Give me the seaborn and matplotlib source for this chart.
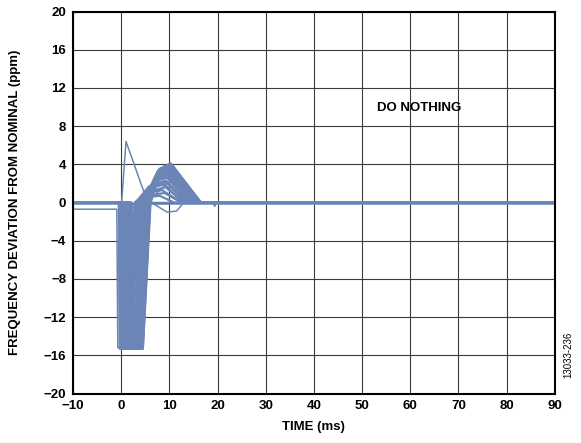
import pandas as pd
import seaborn as sns
import matplotlib.pyplot as plt

# x/y ticks
x_ticks = [-10, 0, 10, 20, 30, 40, 50, 60, 70, 80, 90]
y_ticks = [-20, -16, -12, -8, -4, 0, 4, 8, 12, 16, 20]

# settling runs (ms / ppm)
drop_ms   = [-0.5, -0.4, -0.3, -0.2, 0.0, 0.2, 0.4, 0.6, 0.8, 1.0, 0.1, 1.4, 0.3, 1.8, -0.1, 0.7, 0.5, 2.2,
             0.9, 1.2, 0.3, 1.6, -0.2, 0.6, 1.1, 0.0, 1.5, 0.4, 2.0, 0.8]
floor_ms  = [-0.3, -0.2, -0.1, 0.0, 0.2, 0.4, 0.6, 0.8, 1.0, 1.2, 0.4, 1.6, 0.7, 2.0, 0.1, 0.9, 0.8, 2.4,
             1.1, 1.4, 0.5, 1.8, 0.0, 0.8, 1.3, 0.2, 1.7, 0.6, 2.2, 1.0]
depth_ppm = [-15.3, -15.3, -15.2, -15.3, -15.3, -15.3, -15.3, -15.3, -15.3, -15.3,
             -14.2, -15.1, -12.0, -15.3, -15.2, -15.0, -9.0, -15.3,
             -15.3, -15.2, -15.3, -15.3, -15.1, -15.3, -15.3, -15.2, -15.3, -15.3, -15.2, -15.3]
rise_ms   = [1.0, 1.6, 2.0, 2.4, 2.8, 3.2, 3.6, 4.0, 4.3, 4.5, 1.8, 4.4, 2.2, 4.2, 1.3, 3.0, 1.6, 3.8,
             4.1, 3.9, 3.4, 4.5, 2.6, 3.7, 4.2, 3.1, 4.4, 3.5, 4.3, 3.9]
cross_ms  = [2.8, 3.3, 3.7, 4.1, 4.5, 4.9, 5.3, 5.6, 5.8, 6.0, 3.5, 5.9, 4.0, 5.7, 3.0, 4.7, 3.2, 5.5,
             5.7, 5.5, 5.1, 6.1, 4.3, 5.4, 5.8, 4.8, 6.0, 5.2, 5.9, 5.6]
knee_ms   = [5.5, 6.0, 6.4, 6.7, 7.0, 7.3, 7.6, 7.9, 8.1, 8.3, 6.2, 8.0, 6.5, 7.8, 5.8, 7.2, 6.0, 7.7,
             7.9, 7.6, 7.4, 8.2, 6.9, 7.5, 8.0, 7.1, 8.2, 7.4, 8.1, 7.8]
knee_ppm  = [1.0, 1.5, 1.9, 2.2, 2.6, 2.9, 3.2, 3.4, 3.5, 3.4, 1.2, 3.3, 0.8, 3.1, 1.7, 2.4, 0.6, 2.7,
             3.5, 3.3, 3.0, 3.4, 2.4, 3.1, 3.5, 2.8, 3.4, 3.1, 3.3, 3.4]
peak_ms   = [8.5, 9.0, 9.3, 9.5, 9.7, 9.9, 10.0, 10.1, 10.2, 10.3, 9.2, 10.4, 9.0, 10.0, 9.4, 10.6, 8.0, 10.8,
             10.0, 10.1, 9.8, 10.5, 9.6, 10.2, 10.3, 9.8, 10.6, 10.0, 10.4, 10.1]
peak_ppm  = [1.3, 1.9, 2.3, 2.6, 3.0, 3.3, 3.6, 3.9, 4.1, 4.0, 1.6, 3.8, 1.0, 3.5, 2.1, 2.8, 0.7, 3.1,
             4.0, 3.8, 3.4, 3.9, 2.8, 3.7, 4.1, 3.2, 3.9, 3.5, 3.8, 4.0]
settle_ms = [12.5, 13.0, 13.5, 14.0, 14.5, 15.0, 15.5, 16.0, 16.4, 16.5, 13.0, 16.2, 12.5, 15.8, 13.8, 15.2, 11.0, 15.6,
             16.3, 16.1, 15.4, 16.6, 14.6, 15.9, 16.4, 15.1, 16.5, 15.6, 16.2, 16.3]

# odd runs traced by hand
spike_ms   = [-10, 0.1, 1.0, 4.8, 6.2, 9.5, 13.5, 90]
spike_ppm  = [0, 0, 6.4, 1.0, 0.4, 2.0, 0, 0]
offset_ms  = [-10, -0.9, -0.7, 2.0, 3.2, 5.0, 9.5, 11.5, 13.0, 19.0, 19.4, 19.8, 90]
offset_ppm = [-0.7, -0.7, -15.2, -15.2, 0.0, 0.4, -1.0, -0.9, 0.0, 0.0, -0.4, 0.0, 0]
slope_ms   = [-10, 0.2, 0.5, 5.0, 6.5, 90]
slope_ppm  = [0, 0, -1.5, 0.8, 0, 0]
flat_ms    = [-10, 90]
flat_ppm   = [-0.15, -0.15]

rows = []
for i in range(len(drop_ms)):
    ts = [-10, drop_ms[i], floor_ms[i], rise_ms[i], cross_ms[i], knee_ms[i],
          peak_ms[i], settle_ms[i], 90]
    vs = [0, 0, depth_ppm[i], depth_ppm[i], 0, knee_ppm[i], peak_ppm[i], 0, 0]
    for j, (t, v) in enumerate(zip(ts, vs)):
        rows.append({"run": i, "order": j, "t": t, "ppm": v})
df = pd.DataFrame(rows).sort_values(["run", "order"])

rows = []
extra = [(spike_ms, spike_ppm), (offset_ms, offset_ppm), (slope_ms, slope_ppm),
         (flat_ms, flat_ppm)]
for k, (ts, vs) in enumerate(extra):
    for j, (t, v) in enumerate(zip(ts, vs)):
        rows.append({"run": k, "order": j, "t": t, "ppm": v})
odd = pd.DataFrame(rows).sort_values(["run", "order"])

sns.set_style("white")
plt.rcParams["font.family"] = ["Liberation Sans", "DejaVu Sans"]
plt.rcParams["text.color"] = "black"
plt.rcParams["axes.labelcolor"] = "black"
plt.rcParams["xtick.color"] = "black"
plt.rcParams["ytick.color"] = "black"

fig = plt.figure(figsize=(5.81, 4.43), dpi=100)
ax = fig.add_axes([0.1256, 0.1117, 0.8294, 0.8623])

blue = "#6b85b7"
sns.lineplot(data=df, x="t", y="ppm", units="run", estimator=None, sort=False,
             color=blue, lw=1.6, ax=ax, legend=False)
sns.lineplot(data=odd, x="t", y="ppm", units="run", estimator=None, sort=False,
             color=blue, lw=1.1, ax=ax, legend=False)

ax.set_xlim(-10, 90)
ax.set_ylim(-20, 20)
ax.set_xticks(x_ticks)
ax.set_yticks(y_ticks)
ax.grid(True, color="#3a3a3a", lw=0.8)
ax.set_axisbelow(True)
for s in ax.spines.values():
    s.set_color("black")
    s.set_linewidth(1.5)
ax.tick_params(length=0, labelsize=9.5, pad=5)
for lab in ax.get_xticklabels() + ax.get_yticklabels():
    lab.set_fontweight("bold")

ax.set_xlabel("TIME (ms)", fontsize=9.5, fontweight="bold", labelpad=6)
ax.set_ylabel("FREQUENCY DEVIATION FROM NOMINAL (ppm)", fontsize=9.5,
              fontweight="bold", labelpad=16)
ax.text(53, 9.9, "DO NOTHING", fontsize=9.5, fontweight="bold", va="center")
fig.text(0.978, 0.20, "13033-236", rotation=90, fontsize=7,
         va="center", ha="center")

fig.savefig("out.png", dpi=100)
